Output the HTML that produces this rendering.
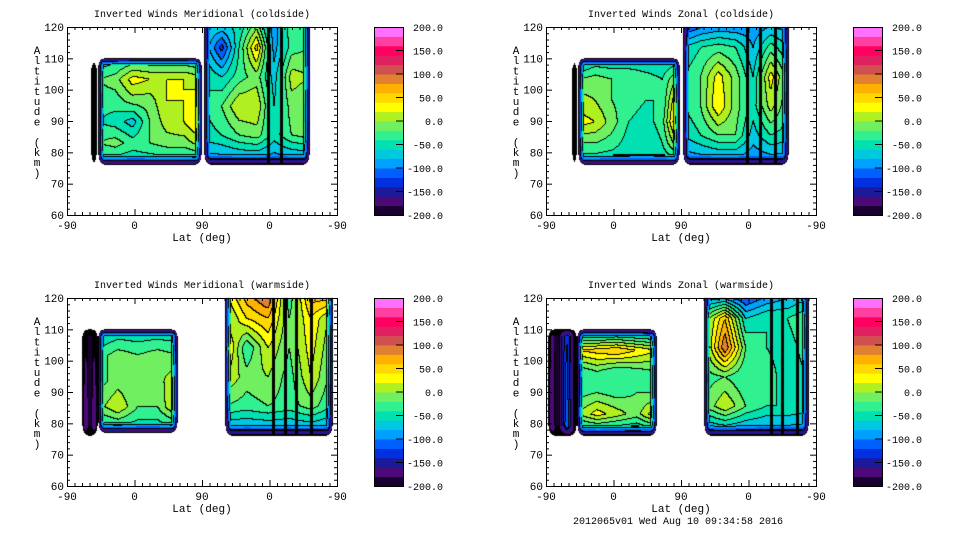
<!DOCTYPE html>
<html><head><meta charset="utf-8">
<style>
body{margin:0;background:#fff;width:960px;height:540px;overflow:hidden;position:relative;font-family:"Liberation Mono",monospace;}
canvas{position:absolute;left:0;top:0;}
svg{position:absolute;left:0;top:0;}
text{font-family:"Liberation Mono",monospace;fill:#000;}
</style></head>
<body>
<canvas id="cv" width="960" height="540"></canvas>
<svg id="sv" width="960" height="540">
<text x="573" y="524" font-size="10">2012065v01 Wed Aug 10 09:34:58 2016</text>
</svg>
<script>
// Colour levels (-200..200 step 20)
const bandColors=["#1a0030","#4b0a78","#1a1a9a","#0030e0","#0060ff","#00a0ff","#00c8e0","#00e0b0","#30f090","#70f060","#b0f020","#ffff00","#ffd800","#ffb000","#e08030","#d05050","#e02060","#ff0060","#ff40a0","#ff70ff"];
const cbLabels=["200.0","150.0","100.0","50.0","0.0","-50.0","-100.0","-150.0","-200.0"];
const xTickLabels=["-90","0","90","0","-90"];
const yTickLabels=[60,70,80,90,100,110,120];
const titles=["Inverted Winds Meridional (coldside)","Inverted Winds Zonal (coldside)","Inverted Winds Meridional (warmside)","Inverted Winds Zonal (warmside)"];
const origins=[[67,27],[546,27],[67,298],[546,298]];
// Data blocks: u = axis position 0..360 (-90..90..-90), altitude km; grid rows top->bottom
const tlBlocks=[
 {u0:32,u1:40,a0:76,a1:109,g:[[-200],[-200]]},
 {u0:41,u1:180,a0:76,a1:110,g:[[-60,-50,-40,-40,-40,-40,-50],[-20,-10,30,20,20,20,10],[-30,-30,-10,-10,20,20,30],[-40,-50,-70,-20,10,20,50],[-20,-10,-30,-20,-10,-10,10],[-60,-60,-60,-60,-60,-60,-60]]},
 {u0:182,u1:324,a0:76,a1:123,g:[[-60,-40,-60,-30,-100,-20,-20],[-60,-130,-40,50,-90,-30,-20],[-40,-60,-30,-10,-70,10,0],[-40,-20,20,20,-60,-10,-20],[-50,-40,-20,-10,-50,-20,-10],[-100,-100,-100,-100,-100,-100,-100]]}];
const tlLines=[268,285];
const trBlocks=[
 {u0:35,u1:41,a0:76,a1:109,g:[[-200],[-200]]},
 {u0:42,u1:179,a0:76,a1:110,g:[[-80,-60,-60,-60,-60,-60,-60],[-20,-10,-20,-20,-30,-40,10],[10,0,-20,-30,-40,-40,60],[30,20,-10,-40,-50,-30,80],[-20,-20,-30,-50,-60,-40,20],[-60,-60,-60,-60,-60,-60,-60]]},
 {u0:183,u1:324,a0:76,a1:123,g:[[-150,-130,-120,-120,-100,-100,-100],[-60,-40,-30,-40,-80,-30,-60],[-40,-20,30,-10,-60,30,-30],[-40,-20,40,-10,-50,10,-40],[-60,-40,-20,-20,-70,-40,-50],[-100,-100,-100,-100,-100,-100,-100]]}];
const trLines=[268,285,305];
const blBlocks=[
 {u0:20,u1:41,a0:76,a1:110,g:[[-150,-200,-150],[-120,-200,-120]]},
 {u0:41,u1:148,a0:77,a1:110,g:[[-70,-60,-60,-60,-60],[-30,-10,-20,-10,-20],[-30,-10,-20,-10,20],[-10,20,-20,-20,30],[-60,-60,-60,-60,-60]]},
 {u0:211,u1:355,a0:76,a1:123,g:[[20,80,120,-40,80,100],[-10,40,60,-20,40,-10],[60,-40,20,-20,30,-20],[20,-10,0,-30,20,-30],[-20,-30,-20,-30,-10,-40],[-100,-100,-100,-100,-100,-100]]}];
const blLines=[275,290,305,325];
const brBlocks=[
 {u0:3,u1:41,a0:76,a1:110,g:[[-150,-200,-120,-200],[-120,-200,-100,-200]]},
 {u0:41,u1:148,a0:76,a1:110,g:[[-100,-100,-100,-100,-100],[40,50,60,40,20],[-40,-20,-40,-30,-20],[-30,-20,-30,-20,-20],[0,30,10,-10,40],[-80,-80,-80,-80,-80]]},
 {u0:211,u1:351,a0:76,a1:123,g:[[-120,-150,-150,-120,-100,-80],[-20,60,-60,-40,-40,-20],[-20,100,-20,-40,-50,-30],[-30,-20,-40,-30,-50,-40],[-20,20,-20,-40,-40,-50],[-100,-100,-100,-100,-100,-100]]}];
const brLines=[300,315,335];
const panels=[[tlBlocks,tlLines],[trBlocks,trLines],[blBlocks,blLines],[brBlocks,brLines]];

const W=270,H=188;
const xS=u=>u*W/360, yS=a=>H-(a-60)*H/60;
const ctx=document.getElementById('cv').getContext('2d');
const sv=document.getElementById('sv');
const NS="http://www.w3.org/2000/svg";
function mk(tag,attrs,parent){const e=document.createElementNS(NS,tag);for(const k in attrs)e.setAttribute(k,attrs[k]);(parent||sv).appendChild(e);return e;}
function interp(g,fx,fy){const R=g.length,C=g[0].length;
 const x=Math.min(Math.max(fx*(C-1),0),C-1),y=Math.min(Math.max(fy*(R-1),0),R-1);
 const x0=Math.floor(x),y0=Math.floor(y),x1=Math.min(x0+1,C-1),y1=Math.min(y0+1,R-1),tx=x-x0,ty=y-y0;
 return g[y0][x0]*(1-tx)*(1-ty)+g[y0][x1]*tx*(1-ty)+g[y1][x0]*(1-tx)*ty+g[y1][x1]*tx*ty;}
function band(v){return Math.max(0,Math.min(19,Math.floor((v+200)/20)));}

panels.forEach((p,pi)=>{
 const [ox,oy]=origins[pi];const blocks=p[0],lines=p[1];
 const B=new Int16Array(W*H).fill(-1);
 const RIM=new Uint8Array(W*H);
 blocks.forEach(b=>{
  const px0=Math.round(xS(b.u0)),px1=Math.round(xS(b.u1)),py0=Math.round(yS(b.a1)),py1=Math.round(yS(b.a0));
  for(let y=py0;y<py1;y++)for(let x=px0;x<px1;x++){
   if(x<0||x>=W||y<0||y>=H)continue;
   const fx=(x-px0)/Math.max(1,px1-px0-1),fy=(y-py0)/Math.max(1,py1-py0-1);
   let v=interp(b.g,fx,fy);
   const dx=Math.min(x-px0,px1-1-x),dt=y-py0,db=py1-1-y;
   const ex=Math.max(0,6-dx),et=Math.max(0,7-dt),eb=Math.max(0,10-db);
   const r=Math.sqrt(ex*ex/36+et*et/49+eb*eb/100);
   if(r>1)continue;
   const k=1-r;
   if(k<1){v=-200+(v+200)*Math.pow(k,0.8);RIM[y*W+x]=1;}
   B[y*W+x]=band(v);
  }
 });
 for(let y=0;y<H;y++)for(let x=0;x<W;x++){
  const b=B[y*W+x];if(b<0)continue;
  let c=bandColors[b];
  if(!RIM[y*W+x]){
   const r=x+1<W?B[y*W+x+1]:b,dn=y+1<H?B[(y+1)*W+x]:b;
   if((r>=0&&r!==b)||(dn>=0&&dn!==b))c="#000";
  } else if(b%3===0) c="#000";
  ctx.fillStyle=c;ctx.fillRect(ox+x,oy+y,1,1);
 }
 lines.forEach(u=>{
  const x=ox+Math.round(xS(u));
  let top=-1,bot=-1;const lx=Math.min(Math.round(xS(u)),W-1);
  for(let y=0;y<H;y++){if(B[y*W+lx]>=0){if(top<0)top=y;bot=y;}}
  if(top>=0){ctx.fillStyle="#000";ctx.fillRect(x-1,oy+top,3,bot-top+1);}
 });
 const g=mk('g',{});
 
 
 mk('rect',{x:ox+0.5,y:oy+0.5,width:W,height:H,fill:'none',stroke:'#000','stroke-width':1},g);
 for(let u=0;u<=360;u+=10){const x=ox+0.5+xS(u);const L=u%90===0?6:3;
  mk('line',{x1:x,y1:oy+H,x2:x,y2:oy+H-L,stroke:'#000'},g);mk('line',{x1:x,y1:oy,x2:x,y2:oy+L,stroke:'#000'},g);}
 for(let a=60;a<=120;a+=2){const y=oy+0.5+yS(a);const L=a%10===0?6:3;
  mk('line',{x1:ox,y1:y,x2:ox+L,y2:y,stroke:'#000'},g);mk('line',{x1:ox+W,y1:y,x2:ox+W-L,y2:y,stroke:'#000'},g);}
 xTickLabels.forEach((t,i)=>{const e=mk('text',{x:ox+xS(i*90),y:oy+H+14,'font-size':11,'text-anchor':'middle'});e.textContent=t;
  });
 yTickLabels.forEach(a=>{const e=mk('text',{x:ox-3,y:oy+yS(a)+4,'font-size':11,'text-anchor':'end'});e.textContent=a;
  });
 let e=mk('text',{x:ox+W/2,y:oy-10,'font-size':10,'text-anchor':'middle'});e.textContent=titles[pi];
 
 e=mk('text',{x:ox+W/2,y:oy+H+26,'font-size':11,'text-anchor':'middle'});e.textContent='Lat (deg)';
 
 const yt="Altitude (km)";
 const yg=mk('g',{});
 [...yt].forEach((ch,i)=>{const t=mk('text',{x:ox-30,y:oy+27+i*10.2,'font-size':11,'text-anchor':'middle'},yg);t.textContent=ch;});
 const cx=ox+307,cw=29;
 const cb=mk('g',{});
 bandColors.forEach((c,i)=>{mk('rect',{x:cx,y:oy+H-(i+1)*H/20,width:cw,height:H/20+0.5,fill:c},cb);});
 mk('rect',{x:cx+0.5,y:oy+0.5,width:cw,height:H,fill:'none',stroke:'#000'},cb);
 cbLabels.forEach((t,i)=>{const y=oy+i*H/8;
  if(i>0&&i<8)mk('line',{x1:cx+cw-7,y1:y,x2:cx+cw,y2:y,stroke:'#000'},cb);
  const tx=mk('text',{x:cx+69,y:y+4,'font-size':10,'text-anchor':'end'},cb);tx.textContent=t;});
});
</script>
</body></html>
